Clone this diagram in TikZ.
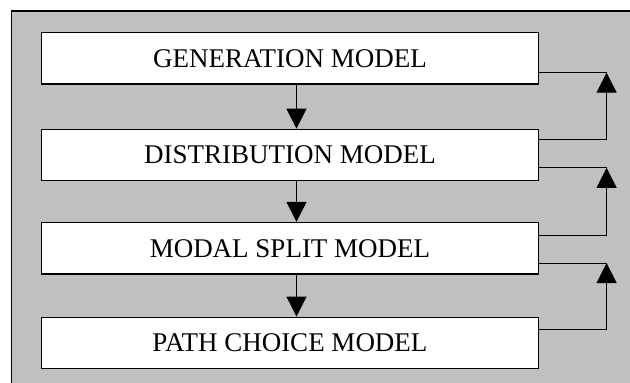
\documentclass[tikz,border=0pt]{standalone}
\usepackage{fontspec}
\setmainfont{Liberation Serif}
\usetikzlibrary{arrows.meta,calc,positioning}

\begin{document}
\begin{tikzpicture}[x=1pt,y=1pt,
model/.style={draw,line width=1.2pt,fill=white,minimum width=496.6pt,minimum height=51.5pt,
  inner sep=0pt,font=\fontsize{27}{30}\selectfont},
flow/.style={line width=1pt,-{Triangle[width=20pt,length=20pt]}},
back/.style={line width=1pt},
node distance=42pt]
\useasboundingbox (0,0) rectangle (630,-383);
\clip (0,0) rectangle (630,-383);
\fill[fill={rgb,255:red,192;green,192;blue,192},draw=black,line width=1.5pt] (11.7,-11) rectangle (640,-393);

\node[model] (gen) at (290,-58.3) {GENERATION MODEL};
\node[model,below=44pt of gen] (dist) {DISTRIBUTION MODEL};
\node[model,below=40.5pt of dist] (modal) {MODAL SPLIT MODEL};
\node[model,below=42pt of modal] (path) {PATH CHOICE MODEL};

% downward chain
\draw[flow] ([xshift=6.5pt]gen.south) -- ([xshift=6.5pt]dist.north);
\draw[flow] ([xshift=6.5pt]dist.south) -- ([xshift=6.5pt]modal.north);
\draw[flow] ([xshift=6.5pt]modal.south) -- ([xshift=6.5pt]path.north);

% feedback loops
\coordinate (fb1) at ([xshift=67.7pt,yshift=12pt]gen.south east);
\coordinate (fb2) at ([xshift=67.7pt,yshift=13.5pt]dist.south east);
\coordinate (fb3) at ([xshift=67.7pt,yshift=11.5pt]modal.south east);
\draw[back] ([yshift=12pt]gen.south east) -- (fb1);
\draw[flow] ([yshift=-11pt]dist.north east) -| (fb1);
\draw[back] ([yshift=13.5pt]dist.south east) -- (fb2);
\draw[flow] ([yshift=-13.3pt]modal.north east) -| (fb2);
\draw[back] ([yshift=11.5pt]modal.south east) -- (fb3);
\draw[flow] ([yshift=-13.2pt]path.north east) -| (fb3);
\end{tikzpicture}
\end{document}
